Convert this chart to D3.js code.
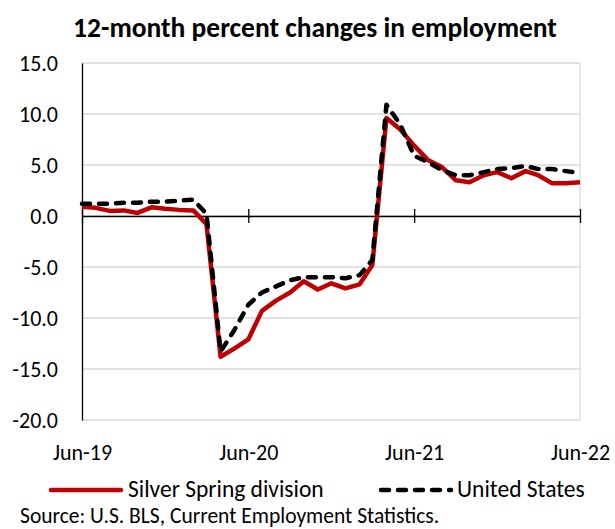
<!DOCTYPE html>
<html>
<head>
<meta charset="utf-8">
<script src="https://cdn.jsdelivr.net/npm/d3@7"></script>
<style>
  body { margin: 0; background: #fff; }
  svg { display: block; font-family: Carlito, Calibri, Lato, sans-serif; }
</style>
</head>
<body>
<svg id="chart" width="615" height="529"></svg>
<script>
// monthly, Jun-19 .. Jun-22
const months = d3.timeMonth.range(new Date(2019, 5, 1), new Date(2022, 6, 1));
const xTickDates = [new Date(2019, 5, 1), new Date(2020, 5, 1), new Date(2021, 5, 1), new Date(2022, 5, 1)];
const yTicks = [-20, -15, -10, -5, 0, 5, 10, 15];

const silverSpring = [0.9, 0.8, 0.5, 0.55, 0.3, 0.85, 0.7, 0.6, 0.55, -0.8,
  -13.8, -13.0, -12.1, -9.3, -8.3, -7.5, -6.4, -7.2, -6.6, -7.1,
  -6.7, -4.8, 9.6, 8.5, 6.9, 5.5, 4.8, 3.5, 3.3, 4.0,
  4.3, 3.7, 4.4, 4.0, 3.2, 3.2, 3.3];
const unitedStates = [1.2, 1.2, 1.2, 1.3, 1.3, 1.4, 1.4, 1.5, 1.6, 0.2,
  -13.3, -11.2, -8.7, -7.5, -6.9, -6.3, -6.0, -6.0, -6.0, -6.1,
  -5.8, -4.3, 10.9, 9.0, 5.9, 5.3, 4.5, 4.0, 4.0, 4.3,
  4.6, 4.7, 4.9, 4.6, 4.6, 4.4, 4.2];

const svg = d3.select('#chart');
const plotLeft = 82, plotRight = 580, plotTop = 63, plotBottom = 420;

const x = d3.scaleTime().domain([months[0], months[months.length - 1]]).range([plotLeft, plotRight]);
const y = d3.scaleLinear().domain([-20, 15]).range([plotBottom, plotTop]);

svg.append('text')
  .attr('x', 315).attr('y', 37)
  .attr('text-anchor', 'middle')
  .attr('font-size', 27.5).attr('font-weight', 'bold')
  .text('12-month percent changes in employment');

// gridlines + plot border
svg.append('g')
  .selectAll('line')
  .data(yTicks)
  .enter()
  .append('line')
  .attr('x1', plotLeft).attr('x2', plotRight)
  .attr('y1', d => y(d)).attr('y2', d => y(d))
  .attr('stroke', '#d9d9d9').attr('stroke-width', 1.3);
svg.append('line')
  .attr('x1', plotRight).attr('x2', plotRight).attr('y1', plotTop).attr('y2', plotBottom)
  .attr('stroke', '#d9d9d9').attr('stroke-width', 1.3);

// y axis
const yAxis = svg.append('g')
  .attr('transform', `translate(${plotLeft},0)`)
  .call(d3.axisLeft(y).tickValues(yTicks).tickSize(0).tickPadding(24).tickFormat(d => d.toFixed(1)))
  .attr('font-family', null)
  .attr('font-size', 22);
yAxis.select('.domain').attr('stroke', '#000').attr('stroke-width', 1.3);
yAxis.selectAll('text').attr('fill', '#000');

// zero axis with ticks crossing it
const zeroAxis = svg.append('g')
  .attr('transform', `translate(0,${y(0)})`)
  .call(d3.axisBottom(x).tickValues(xTickDates).tickSize(7).tickSizeOuter(0).tickFormat(''));
zeroAxis.select('.domain').attr('stroke', '#000').attr('stroke-width', 1.3);
zeroAxis.selectAll('.tick line').attr('y1', -7).attr('stroke', '#000').attr('stroke-width', 1.3);

// month labels below the plot
const xLabels = svg.append('g')
  .attr('transform', `translate(0,${plotBottom})`)
  .call(d3.axisBottom(x).tickValues(xTickDates).tickSize(0).tickPadding(24).tickFormat(d3.timeFormat('%b-%y')))
  .attr('font-family', null)
  .attr('font-size', 22);
xLabels.select('.domain').remove();
xLabels.selectAll('text').attr('fill', '#000');

const line = d3.line()
  .x((d, i) => x(months[i]))
  .y(d => y(d));

svg.append('path')
  .datum(silverSpring)
  .attr('d', line)
  .attr('fill', 'none')
  .attr('stroke', '#c00000')
  .attr('stroke-width', 4.5)
  .attr('stroke-linejoin', 'round');

svg.append('path')
  .datum(unitedStates)
  .attr('d', line)
  .attr('fill', 'none')
  .attr('stroke', '#000')
  .attr('stroke-width', 4.5)
  .attr('stroke-linecap', 'round')
  .attr('stroke-linejoin', 'round')
  .attr('stroke-dasharray', '8,9');

// legend
const legend = svg.append('g').attr('font-size', 23.5);
legend.append('line')
  .attr('x1', 51).attr('x2', 121).attr('y1', 490).attr('y2', 490)
  .attr('stroke', '#c00000').attr('stroke-width', 4.5).attr('stroke-linecap', 'round');
legend.append('text').attr('x', 128).attr('y', 497).text('Silver Spring division');
legend.append('line')
  .attr('x1', 381).attr('x2', 451).attr('y1', 490).attr('y2', 490)
  .attr('stroke', '#000').attr('stroke-width', 4.5).attr('stroke-linecap', 'round')
  .attr('stroke-dasharray', '8,9');
legend.append('text').attr('x', 457).attr('y', 497).text('United States');

svg.append('text')
  .attr('x', 20).attr('y', 523)
  .attr('font-size', 21.5)
  .text('Source: U.S. BLS, Current Employment Statistics.');
</script>
</body>
</html>
